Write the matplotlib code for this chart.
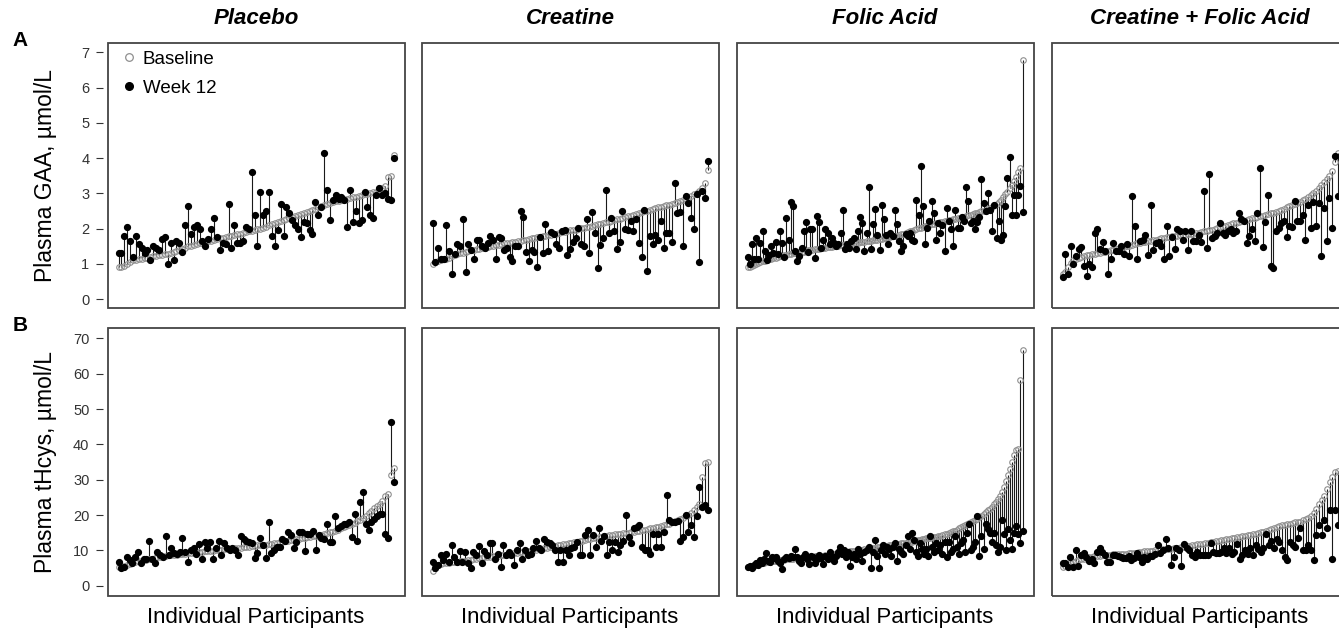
import numpy as np
import matplotlib.pyplot as plt
from matplotlib.patches import Rectangle
from matplotlib.lines import Line2D

plt.rcParams['font.family'] = ['Liberation Sans', 'DejaVu Sans']

# ---- data (each panel sorted by baseline) ----
groups = ["Placebo", "Creatine", "Folic Acid", "Creatine + Folic Acid"]

# Plasma GAA, umol/L
placebo_gaa_base = [
    0.90, 0.92, 0.95, 1.00, 1.06, 1.10, 1.12, 1.14, 1.15, 1.17,
    1.18, 1.19, 1.21, 1.22, 1.24, 1.25, 1.27, 1.29, 1.31, 1.33,
    1.36, 1.38, 1.41, 1.45, 1.50, 1.52, 1.54, 1.56, 1.58, 1.60,
    1.62, 1.64, 1.66, 1.68, 1.70, 1.72, 1.74, 1.76, 1.78, 1.80,
    1.82, 1.84, 1.86, 1.88, 1.90, 1.92, 1.94, 1.96, 1.98, 2.00,
    2.03, 2.06, 2.09, 2.12, 2.15, 2.18, 2.21, 2.24, 2.27, 2.30,
    2.33, 2.36, 2.39, 2.42, 2.45, 2.48, 2.51, 2.54, 2.57, 2.60,
    2.63, 2.66, 2.69, 2.72, 2.75, 2.77, 2.79, 2.81, 2.83, 2.85,
    2.87, 2.89, 2.91, 2.93, 2.95, 2.97, 2.99, 3.01, 3.03, 3.05,
    3.10, 3.15, 3.22, 3.45, 3.50, 4.10]
placebo_gaa_wk12 = [
    1.30, 1.30, 1.80, 2.05, 1.65, 1.20, 1.80, 1.55, 1.45, 1.30,
    1.40, 1.10, 1.50, 1.45, 1.40, 1.70, 1.75, 1.00, 1.60, 1.10,
    1.65, 1.60, 1.35, 2.10, 2.65, 1.85, 2.05, 2.10, 2.00, 1.65,
    1.50, 1.70, 2.00, 2.30, 1.75, 1.40, 1.60, 1.55, 2.70, 1.45,
    2.10, 1.60, 1.60, 1.65, 2.05, 2.00, 3.60, 2.40, 1.50, 3.05,
    2.40, 2.50, 3.05, 1.80, 1.50, 1.95, 2.70, 1.80, 2.60, 2.45,
    2.25, 2.10, 2.00, 1.75, 2.20, 2.15, 1.95, 1.85, 2.75, 2.40,
    2.60, 4.15, 3.10, 2.25, 2.80, 2.95, 2.85, 2.90, 2.80, 2.05,
    3.10, 2.20, 2.50, 2.15, 2.25, 3.05, 2.60, 2.40, 2.30, 2.95,
    3.15, 2.95, 3.00, 2.85, 2.80, 4.00]

creatine_gaa_base = [
    1.00, 1.04, 1.07, 1.10, 1.13, 1.15, 1.18, 1.21, 1.24, 1.27,
    1.30, 1.32, 1.34, 1.36, 1.38, 1.40, 1.42, 1.43, 1.45, 1.46,
    1.48, 1.50, 1.51, 1.53, 1.54, 1.56, 1.58, 1.59, 1.60, 1.62,
    1.63, 1.65, 1.66, 1.68, 1.69, 1.71, 1.72, 1.74, 1.75, 1.77,
    1.78, 1.80, 1.81, 1.83, 1.85, 1.86, 1.88, 1.90, 1.91, 1.93,
    1.95, 1.96, 1.97, 1.99, 2.01, 2.03, 2.04, 2.06, 2.08, 2.10,
    2.12, 2.14, 2.16, 2.18, 2.20, 2.22, 2.24, 2.26, 2.28, 2.30,
    2.33, 2.35, 2.37, 2.40, 2.42, 2.45, 2.47, 2.49, 2.51, 2.53,
    2.55, 2.58, 2.60, 2.62, 2.64, 2.66, 2.68, 2.70, 2.72, 2.75,
    2.78, 2.80, 2.83, 2.87, 2.93, 2.97, 3.02, 3.08, 3.15, 3.30,
    3.67]
creatine_gaa_wk12 = [
    2.17, 1.04, 1.46, 1.13, 1.15, 2.09, 1.36, 0.71, 1.29, 1.55,
    1.50, 2.26, 0.76, 1.55, 1.38, 1.13, 1.69, 1.67, 1.52, 1.46,
    1.60, 1.79, 1.69, 1.13, 1.77, 1.74, 1.39, 1.46, 1.20, 1.08,
    1.52, 1.52, 2.49, 2.33, 1.34, 1.08, 1.38, 1.34, 0.91, 1.77,
    1.30, 2.14, 1.36, 1.90, 1.84, 1.55, 1.46, 1.93, 1.96, 1.25,
    1.41, 1.63, 1.74, 2.02, 1.55, 1.52, 2.26, 1.32, 2.47, 1.87,
    0.87, 1.53, 1.74, 3.09, 1.87, 2.30, 1.93, 1.43, 1.62, 2.49,
    2.00, 1.95, 2.21, 1.92, 2.26, 1.60, 1.20, 2.54, 0.81, 1.79,
    1.55, 1.81, 1.67, 2.21, 1.44, 1.88, 1.88, 1.62, 3.30, 2.45,
    2.47, 1.50, 2.92, 2.73, 2.30, 2.00, 2.99, 1.04, 3.07, 2.87,
    3.93]

folic_gaa_base = [
    0.90, 0.92, 0.95, 0.97, 1.00, 1.03, 1.05, 1.07, 1.09, 1.11,
    1.13, 1.15, 1.16, 1.18, 1.19, 1.21, 1.22, 1.24, 1.25, 1.27,
    1.29, 1.30, 1.31, 1.32, 1.33, 1.34, 1.35, 1.36, 1.38, 1.39,
    1.40, 1.41, 1.42, 1.43, 1.44, 1.45, 1.46, 1.47, 1.48, 1.49,
    1.50, 1.51, 1.52, 1.53, 1.54, 1.55, 1.56, 1.57, 1.58, 1.59,
    1.59, 1.60, 1.61, 1.62, 1.63, 1.64, 1.65, 1.66, 1.67, 1.68,
    1.69, 1.70, 1.71, 1.72, 1.74, 1.75, 1.76, 1.78, 1.79, 1.80,
    1.82, 1.84, 1.86, 1.88, 1.90, 1.92, 1.94, 1.96, 1.99, 2.01,
    2.03, 2.05, 2.07, 2.08, 2.10, 2.12, 2.13, 2.15, 2.17, 2.19,
    2.20, 2.21, 2.23, 2.24, 2.25, 2.27, 2.28, 2.30, 2.31, 2.33,
    2.34, 2.36, 2.38, 2.40, 2.41, 2.43, 2.45, 2.47, 2.49, 2.51,
    2.53, 2.56, 2.59, 2.62, 2.66, 2.70, 2.75, 2.82, 2.90, 2.97,
    3.05, 3.15, 3.25, 3.35, 3.45, 3.60, 3.72, 6.79]
folic_gaa_wk12 = [
    1.20, 1.00, 1.55, 1.13, 1.74, 1.13, 1.60, 1.92, 1.36, 1.10,
    1.25, 1.52, 1.30, 1.63, 1.27, 1.92, 1.60, 1.20, 2.30, 1.69,
    2.75, 2.63, 1.36, 1.08, 1.22, 1.44, 1.92, 2.20, 1.34, 1.98,
    2.00, 1.17, 2.37, 2.20, 1.46, 1.69, 1.98, 1.87, 1.55, 1.74,
    1.60, 1.52, 1.55, 1.88, 2.54, 1.41, 1.57, 1.46, 1.65, 1.74,
    1.43, 1.92, 2.32, 2.16, 1.36, 1.88, 3.17, 1.41, 2.12, 2.57,
    1.82, 1.39, 2.68, 2.26, 1.82, 1.55, 1.87, 1.79, 2.54, 2.12,
    1.65, 1.36, 1.50, 1.84, 1.79, 1.88, 1.67, 1.65, 2.82, 2.39,
    3.77, 2.63, 1.55, 2.01, 2.21, 2.77, 2.45, 1.69, 2.16, 1.88,
    2.09, 1.36, 2.59, 2.21, 1.98, 1.50, 2.53, 2.01, 2.02, 2.33,
    2.21, 3.17, 2.77, 2.16, 2.21, 2.00, 2.20, 2.34, 3.42, 2.73,
    2.49, 3.00, 2.54, 1.92, 2.68, 1.74, 2.23, 1.69, 1.82, 2.63,
    3.44, 4.02, 2.39, 2.96, 2.39, 2.96, 3.20, 2.47]

combo_gaa_base = [
    0.70, 0.78, 0.90, 1.02, 1.10, 1.14, 1.17, 1.20, 1.22, 1.24,
    1.26, 1.27, 1.28, 1.30, 1.31, 1.33, 1.34, 1.36, 1.38, 1.40,
    1.42, 1.44, 1.46, 1.48, 1.50, 1.52, 1.54, 1.56, 1.58, 1.60,
    1.61, 1.63, 1.64, 1.66, 1.67, 1.69, 1.70, 1.72, 1.73, 1.75,
    1.76, 1.78, 1.79, 1.80, 1.81, 1.82, 1.83, 1.84, 1.85, 1.86,
    1.87, 1.89, 1.90, 1.92, 1.93, 1.95, 1.97, 2.00, 2.02, 2.04,
    2.06, 2.08, 2.11, 2.13, 2.15, 2.17, 2.19, 2.21, 2.23, 2.25,
    2.27, 2.29, 2.31, 2.33, 2.35, 2.37, 2.39, 2.41, 2.43, 2.45,
    2.48, 2.51, 2.54, 2.57, 2.60, 2.63, 2.66, 2.69, 2.72, 2.75,
    2.80, 2.85, 2.90, 2.96, 3.02, 3.08, 3.15, 3.25, 3.32, 3.40,
    3.50, 3.62, 3.90, 4.14]
combo_gaa_wk12 = [
    0.64, 1.27, 0.70, 1.52, 1.00, 1.22, 1.41, 1.48, 0.94, 0.67,
    0.99, 0.92, 1.87, 2.00, 1.41, 1.63, 1.36, 0.70, 1.15, 1.60,
    1.36, 1.36, 1.52, 1.29, 1.55, 1.22, 2.92, 2.07, 1.15, 1.65,
    1.67, 1.81, 1.24, 2.66, 1.39, 1.60, 1.63, 1.50, 1.13, 2.07,
    1.22, 1.77, 1.43, 2.00, 1.93, 1.69, 1.93, 1.39, 1.93, 1.65,
    1.65, 1.81, 1.62, 3.08, 1.46, 3.54, 1.72, 1.79, 1.87, 2.16,
    1.87, 1.81, 1.93, 1.98, 1.87, 1.93, 2.45, 2.28, 2.21, 1.60,
    1.79, 1.98, 1.65, 2.45, 3.73, 1.48, 2.18, 2.96, 0.94, 0.87,
    1.93, 2.02, 2.16, 2.21, 1.77, 2.07, 2.05, 2.77, 2.21, 2.21,
    2.39, 1.67, 2.68, 2.02, 2.75, 2.07, 2.73, 1.22, 2.59, 1.65,
    2.87, 2.02, 4.07, 2.92]

# Plasma tHcys, umol/L
placebo_hcy_base = [
    5.2, 5.4, 5.6, 5.9, 6.1, 6.4, 6.8, 6.9, 7.1, 7.2,
    7.4, 7.5, 7.7, 7.8, 8.0, 8.1, 8.3, 8.4, 8.6, 8.7,
    8.8, 8.8, 8.9, 9.0, 9.1, 9.2, 9.3, 9.4, 9.5, 9.5,
    9.6, 9.7, 9.8, 9.9, 9.9, 10.0, 10.1, 10.2, 10.3, 10.4,
    10.5, 10.5, 10.6, 10.7, 10.8, 10.9, 11.0, 11.1, 11.2, 11.3,
    11.4, 11.5, 11.6, 11.6, 11.7, 11.9, 12.0, 12.2, 12.3, 12.5,
    12.6, 12.8, 12.9, 13.0, 13.2, 13.3, 13.4, 13.6, 13.7, 13.9,
    14.0, 14.1, 14.2, 14.4, 14.7, 14.9, 15.1, 15.3, 15.6, 15.9,
    16.2, 16.5, 16.8, 17.1, 17.4, 17.8, 18.2, 18.6, 19.1, 19.6,
    20.5, 21.2, 22.0, 22.5, 23.0, 24.0, 25.5, 26.0, 31.3, 33.2]
placebo_hcy_wk12 = [
    6.8, 4.9, 5.4, 8.2, 7.3, 6.4, 8.2, 9.6, 6.4, 7.7,
    7.7, 12.6, 7.7, 6.4, 9.6, 8.6, 8.2, 14.1, 8.6, 10.6,
    9.4, 9.1, 9.6, 13.5, 9.6, 6.8, 10.1, 10.6, 9.1, 11.7,
    7.5, 12.5, 10.6, 12.5, 7.7, 10.6, 12.6, 8.6, 12.0, 10.6,
    10.1, 10.6, 10.1, 8.6, 14.1, 13.2, 12.8, 12.3, 12.0, 7.9,
    9.4, 13.5, 11.5, 7.9, 17.9, 9.4, 10.1, 11.0, 11.0, 13.2,
    12.8, 15.2, 14.3, 10.6, 12.5, 15.2, 15.2, 9.8, 14.5, 14.5,
    15.4, 10.1, 14.3, 13.5, 13.2, 17.6, 12.5, 12.5, 19.6, 16.2,
    16.9, 17.6, 17.6, 17.9, 13.8, 20.2, 12.8, 23.7, 26.6, 17.6,
    15.7, 18.1, 18.8, 19.8, 20.4, 20.2, 14.7, 13.5, 46.2, 29.4]

creatine_hcy_base = [
    4.1, 5.5, 5.9, 6.1, 6.3, 6.4, 6.5, 6.6, 6.7, 6.8,
    6.9, 7.0, 7.1, 7.2, 7.4, 7.5, 7.7, 7.8, 7.9, 8.0,
    8.1, 8.2, 8.3, 8.4, 8.5, 8.6, 8.7, 8.8, 9.0, 9.1,
    9.2, 9.3, 9.5, 9.6, 9.7, 9.8, 9.9, 10.1, 10.2, 10.4,
    10.5, 10.6, 10.8, 10.9, 11.1, 11.2, 11.4, 11.5, 11.7, 11.8,
    12.0, 12.1, 12.3, 12.5, 12.6, 12.8, 12.9, 13.1, 13.2, 13.4,
    13.5, 13.7, 13.8, 14.0, 14.1, 14.3, 14.4, 14.5, 14.6, 14.7,
    14.8, 14.9, 15.0, 15.1, 15.2, 15.4, 15.5, 15.7, 15.9, 16.0,
    16.2, 16.4, 16.5, 16.7, 16.9, 17.1, 17.4, 17.6, 17.9, 18.2,
    18.6, 18.9, 19.2, 19.6, 20.0, 20.6, 21.5, 22.3, 23.0, 30.8,
    34.6, 35.1]
creatine_hcy_wk12 = [
    6.8, 4.9, 6.0, 8.6, 7.2, 9.1, 6.8, 11.5, 8.2, 6.6,
    9.9, 6.8, 9.6, 6.4, 4.9, 9.6, 8.8, 11.2, 6.4, 9.9,
    8.6, 12.0, 12.0, 7.7, 9.1, 5.4, 11.5, 8.6, 9.6, 8.8,
    6.0, 10.1, 12.0, 7.7, 10.1, 8.6, 9.1, 10.6, 12.8, 10.6,
    10.1, 13.2, 12.5, 12.0, 11.5, 10.1, 6.8, 10.1, 6.8, 10.1,
    8.8, 10.6, 11.0, 12.5, 8.8, 8.8, 14.3, 15.7, 8.8, 14.3,
    11.0, 16.2, 12.8, 14.0, 8.8, 12.5, 10.1, 12.5, 9.6, 11.5,
    12.8, 20.0, 13.8, 12.2, 16.4, 16.7, 17.1, 11.0, 10.1, 10.1,
    9.1, 14.7, 11.0, 14.7, 11.0, 15.2, 25.8, 18.6, 18.1, 18.1,
    18.4, 12.8, 13.8, 20.0, 15.2, 17.3, 13.8, 19.6, 27.9, 22.4,
    22.8, 21.5]

folic_hcy_base = [
    5.3, 5.4, 5.5, 5.7, 5.9, 6.1, 6.3, 6.4, 6.5, 6.6,
    6.7, 6.8, 6.9, 7.0, 7.1, 7.2, 7.3, 7.3, 7.4, 7.5,
    7.6, 7.6, 7.7, 7.8, 7.8, 7.9, 7.9, 8.0, 8.0, 8.1,
    8.1, 8.2, 8.2, 8.3, 8.4, 8.4, 8.5, 8.5, 8.6, 8.7,
    8.8, 8.9, 8.9, 9.0, 9.1, 9.2, 9.3, 9.4, 9.5, 9.6,
    9.7, 9.8, 9.9, 9.9, 10.0, 10.1, 10.2, 10.3, 10.4, 10.5,
    10.6, 10.7, 10.8, 10.9, 11.0, 11.0, 11.1, 11.2, 11.3, 11.4,
    11.5, 11.6, 11.7, 11.8, 11.9, 12.0, 12.1, 12.2, 12.3, 12.4,
    12.5, 12.6, 12.7, 12.9, 13.0, 13.1, 13.2, 13.4, 13.5, 13.6,
    13.7, 13.8, 13.9, 14.0, 14.2, 14.3, 14.5, 14.7, 14.9, 15.1,
    15.4, 15.6, 15.9, 16.2, 16.5, 16.8, 17.1, 17.4, 17.7, 18.0,
    18.3, 18.6, 19.0, 19.4, 19.8, 20.3, 20.9, 21.4, 21.8, 22.3,
    23.0, 23.8, 24.5, 25.5, 26.6, 27.8, 29.5, 31.2, 33.0, 35.0,
    37.0, 38.3, 38.8, 58.1, 66.8]
folic_hcy_wk12 = [
    5.2, 5.5, 5.0, 5.8, 6.5, 6.0, 7.2, 6.5, 7.5, 9.3,
    7.0, 6.8, 8.0, 7.8, 8.2, 7.0, 6.5, 4.8, 7.5, 8.0,
    7.8, 8.5, 8.2, 10.4, 8.0, 7.0, 6.5, 8.0, 9.0, 7.5,
    6.2, 8.5, 8.0, 6.5, 7.5, 8.8, 7.8, 6.2, 8.5, 7.5,
    9.5, 8.0, 7.0, 8.5, 9.5, 11.0, 9.0, 10.0, 8.0, 9.5,
    5.5, 8.0, 9.0, 7.5, 10.5, 9.0, 7.0, 9.5, 10.0, 11.0,
    5.0, 9.5, 13.0, 8.5, 5.0, 10.0, 11.5, 9.0, 11.0, 10.5,
    8.5, 11.0, 12.0, 7.0, 10.5, 9.5, 9.0, 11.5, 14.0, 10.5,
    15.0, 13.0, 9.5, 8.5, 12.0, 10.5, 9.0, 10.5, 8.5, 14.0,
    11.0, 9.5, 12.0, 10.0, 11.5, 9.0, 12.5, 8.0, 12.5, 9.5,
    10.5, 14.0, 11.0, 9.0, 12.0, 13.0, 9.5, 15.0, 17.5, 10.0,
    11.0, 12.5, 19.6, 8.5, 14.0, 10.5, 17.6, 16.0, 15.0, 12.5,
    15.0, 11.5, 9.5, 11.0, 18.5, 14.5, 10.0, 16.0, 13.0, 10.5,
    15.0, 17.0, 14.5, 12.0, 15.5]

combo_hcy_base = [
    5.4, 5.6, 5.9, 6.3, 6.7, 7.0, 7.3, 7.5, 7.7, 7.9,
    8.1, 8.2, 8.3, 8.4, 8.5, 8.6, 8.7, 8.8, 8.8, 8.9,
    8.9, 9.0, 9.0, 9.1, 9.1, 9.2, 9.3, 9.3, 9.4, 9.5,
    9.6, 9.7, 9.7, 9.8, 9.9, 10.0, 10.1, 10.2, 10.3, 10.4,
    10.5, 10.5, 10.6, 10.7, 10.8, 10.9, 11.0, 11.2, 11.3, 11.4,
    11.5, 11.7, 11.8, 11.9, 12.1, 12.2, 12.3, 12.5, 12.6, 12.7,
    12.9, 13.0, 13.2, 13.3, 13.5, 13.6, 13.7, 13.8, 14.0, 14.1,
    14.3, 14.4, 14.6, 14.7, 14.9, 15.1, 15.2, 15.4, 15.7, 16.0,
    16.3, 16.6, 16.9, 17.1, 17.3, 17.4, 17.6, 17.7, 17.9, 18.0,
    18.1, 18.5, 18.9, 19.3, 19.7, 20.7, 21.8, 23.0, 24.2, 25.5,
    27.4, 29.3, 30.8, 32.2, 32.6]
combo_hcy_wk12 = [
    6.3, 6.3, 5.4, 8.2, 5.4, 10.1, 5.7, 8.6, 9.4, 8.2,
    7.0, 7.7, 6.3, 9.6, 10.6, 9.6, 8.6, 6.8, 6.8, 8.6,
    8.6, 8.4, 8.2, 7.9, 7.9, 8.4, 7.2, 7.9, 9.4, 8.2,
    6.8, 8.2, 7.7, 8.4, 8.4, 9.1, 11.5, 9.4, 10.1, 13.2,
    10.6, 5.9, 8.2, 10.6, 10.1, 5.7, 11.7, 10.6, 10.1, 8.8,
    8.2, 9.6, 8.8, 8.6, 8.8, 8.6, 12.0, 9.6, 9.4, 9.4,
    9.6, 10.6, 9.4, 10.6, 9.1, 9.6, 11.7, 7.7, 8.6, 10.1,
    9.1, 10.6, 8.6, 11.5, 10.4, 9.6, 10.6, 14.7, 11.5, 12.8,
    10.6, 13.2, 12.5, 10.1, 8.2, 7.2, 12.5, 11.5, 11.0, 13.5,
    16.2, 10.1, 10.1, 11.5, 10.1, 7.2, 14.3, 17.1, 14.3, 18.6,
    16.2, 21.5, 7.7, 21.5, 17.3]

gaa_ticks = [0, 1, 2, 3, 4, 5, 6, 7]
hcy_ticks = [0, 10, 20, 30, 40, 50, 60, 70]

rows = [
    [(placebo_gaa_base, placebo_gaa_wk12), (creatine_gaa_base, creatine_gaa_wk12),
     (folic_gaa_base, folic_gaa_wk12), (combo_gaa_base, combo_gaa_wk12)],
    [(placebo_hcy_base, placebo_hcy_wk12), (creatine_hcy_base, creatine_hcy_wk12),
     (folic_hcy_base, folic_hcy_wk12), (combo_hcy_base, combo_hcy_wk12)],
]

# ---- layout in pixels (figure is 1339 x 631) ----
W, H = 1339, 631
lefts = [107.5, 421.5, 736.5, 1051.5]
pw = 297
row_box = [(42.7, 308.0), (327.7, 596.0)]
row_ylim = [(-0.25, 7.27), (-2.9, 73.0)]
row_ticks = [gaa_ticks, hcy_ticks]
row_ylabel = ["Plasma GAA, \u00b5mol/L", "Plasma tHcys, \u00b5mol/L"]
row_letter = ["A", "B"]

fig = plt.figure(figsize=(W / 100, H / 100), dpi=100)

for r in range(2):
    top, bot = row_box[r]
    for c in range(4):
        ax = fig.add_axes([lefts[c] / W, 1 - bot / H, pw / W, (bot - top) / H])
        base = np.asarray(rows[r][c][0])
        week = np.asarray(rows[r][c][1])
        x = np.arange(len(base))
        ax.vlines(x, base, week, color='#1a1a1a', lw=0.8, zorder=2)
        ax.plot(x, base, 'o', ms=4.0, mfc='none', mec='#8f8f8f', mew=0.8, zorder=3)
        ax.plot(x, week, 'o', ms=4.2, color='black', mec='black', zorder=4)

        pad = 0.04 * (len(x) - 1)
        ax.set_xlim(-pad, len(x) - 1 + pad)
        ax.set_ylim(row_ylim[r])
        ax.set_xticks([])
        for s in ax.spines.values():
            s.set_visible(False)
        ax.add_patch(Rectangle((0, 0), 1, 1, transform=ax.transAxes, fill=False,
                               ec='#444444', lw=1.3, clip_on=False, zorder=5))
        if c == 0:
            ax.spines['left'].set_position(('outward', 3))
            ax.set_yticks(row_ticks[r])
            ax.tick_params(axis='y', length=5, width=0.8, color='#333333',
                           labelsize=10.5, labelcolor='#333333', pad=5)
        else:
            ax.set_yticks([])

        if r == 0:
            fig.text((lefts[c] + pw / 2) / W, 1 - 18 / H, groups[c], ha='center',
                     va='center', fontsize=16, fontweight='bold', fontstyle='italic')
        else:
            fig.text((lefts[c] + pw / 2) / W, 1 - 618 / H, "Individual Participants",
                     ha='center', va='center', fontsize=16)

        if r == 0 and c == 0:
            handles = [
                Line2D([], [], ls='none', marker='o', ms=5.5, mfc='none', mec='#8f8f8f', mew=0.9),
                Line2D([], [], ls='none', marker='o', ms=5.5, color='black'),
            ]
            ax.legend(handles, ["Baseline", "Week 12"], loc='upper left',
                      bbox_to_anchor=(0.05, 0.97), frameon=False, fontsize=13.5,
                      handlelength=0.7, handletextpad=0.4, borderpad=0,
                      borderaxespad=0, labelspacing=0.62)

    fig.text(20 / W, 1 - (top - 2) / H, row_letter[r], ha='center', va='center',
             fontsize=15, fontweight='bold')
    fig.text(46 / W, 1 - ((top + bot) / 2) / H, row_ylabel[r], ha='center',
             va='center', rotation=90, fontsize=16.5)

fig.savefig('out.png', dpi=100)
